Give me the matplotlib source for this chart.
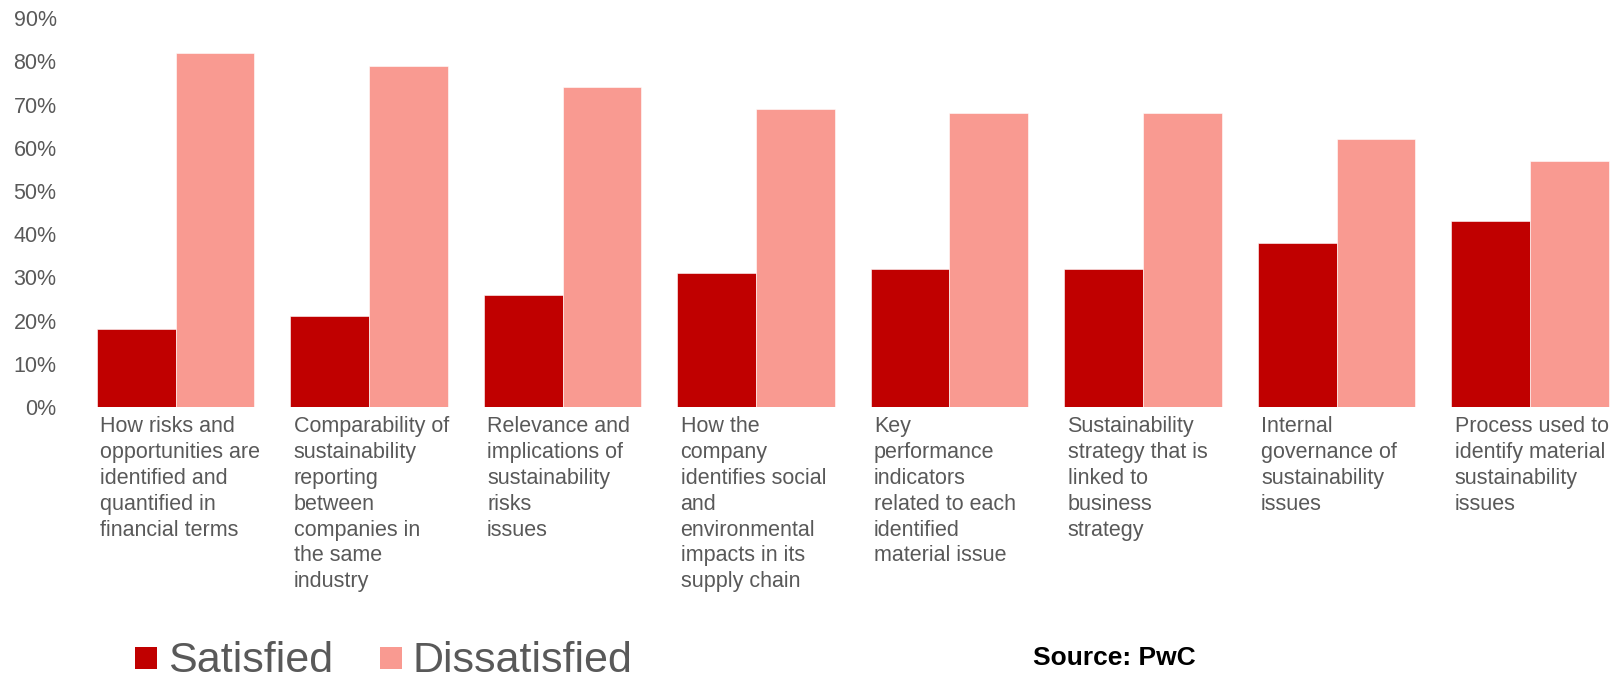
import matplotlib
matplotlib.use("Agg")
import matplotlib.pyplot as plt
import matplotlib.transforms as mtransforms
from matplotlib.patches import Rectangle
from matplotlib.ticker import PercentFormatter
import numpy as np

plt.rcParams["font.family"] = ["Liberation Sans", "DejaVu Sans"]

# ---------------------------------------------------------------------------
# Survey data: share of investors satisfied / dissatisfied per topic
# ---------------------------------------------------------------------------
categories = [
    "How risks and\nopportunities are\nidentified and\nquantified in\nfinancial terms",
    "Comparability of\nsustainability\nreporting\nbetween\ncompanies in\nthe same\nindustry",
    "Relevance and\nimplications of\nsustainability\nrisks\nissues",
    "How the\ncompany\nidentifies social\nand\nenvironmental\nimpacts in its\nsupply chain",
    "Key\nperformance\nindicators\nrelated to each\nidentified\nmaterial issue",
    "Sustainability\nstrategy that is\nlinked to\nbusiness\nstrategy",
    "Internal\ngovernance of\nsustainability\nissues",
    "Process used to\nidentify material\nsustainability\nissues",
]
satisfied = [0.18, 0.21, 0.26, 0.31, 0.32, 0.32, 0.38, 0.43]
dissatisfied = [0.82, 0.79, 0.74, 0.69, 0.68, 0.68, 0.62, 0.57]
series_names = ["Satisfied", "Dissatisfied"]

SAT_COLOR = "#C00000"
DIS_COLOR = "#F99A91"
TEXT_GREY = "#595959"

W, H = 1621, 677
fig = plt.figure(figsize=(W / 100, H / 100), dpi=100)
# plot area in pixels: x from 78.75 (8 slots of 193.5 px), y from 18.3 to 407
ax = fig.add_axes([78.75 / W, 1 - 407 / H, 8 * 193.5 / W, 388.7 / H])

x = np.arange(len(categories))
bw = 0.408
ax.bar(x - bw / 2, satisfied, width=bw, color=SAT_COLOR,
       edgecolor="white", linewidth=0.4)
ax.bar(x + bw / 2, dissatisfied, width=bw, color=DIS_COLOR,
       edgecolor="white", linewidth=0.4)

ax.set_xlim(-0.5, len(categories) - 0.5)
ax.set_ylim(0, 0.9)
ax.set_yticks(np.arange(0, 0.91, 0.1))
ax.yaxis.set_major_formatter(PercentFormatter(1.0, decimals=0))
ax.tick_params(axis="y", length=0, pad=16, labelsize=15.5, labelcolor=TEXT_GREY)
ax.set_xticks([])
for side in ["top", "right", "bottom", "left"]:
    ax.spines[side].set_visible(False)

# category labels, left aligned under each pair of bars
trans = mtransforms.blended_transform_factory(ax.transData, ax.transAxes)
for i, label in enumerate(categories):
    ax.text(i - bw + 0.018, -0.024, label, transform=trans, ha="left",
            va="top", fontsize=15.5, color=TEXT_GREY, linespacing=1.30)

# legend drawn by hand: square swatch + large grey label
legend_x = [(135, 168), (380, 413)]
for (sx, tx), name, color in zip(legend_x, series_names, [SAT_COLOR, DIS_COLOR]):
    fig.patches.append(Rectangle((sx / W, 1 - 669 / H), 22 / W, 22 / H,
                                 transform=fig.transFigure, facecolor=color,
                                 edgecolor="none"))
    fig.text(tx / W, 1 - 672 / H, name, fontsize=31, color=TEXT_GREY,
             ha="left", va="baseline")

fig.text(1033 / W, 1 - 665 / H, "Source: PwC", fontsize=19,
         fontweight="bold", color="black", ha="left", va="baseline")

fig.savefig("out.png", dpi=100)
